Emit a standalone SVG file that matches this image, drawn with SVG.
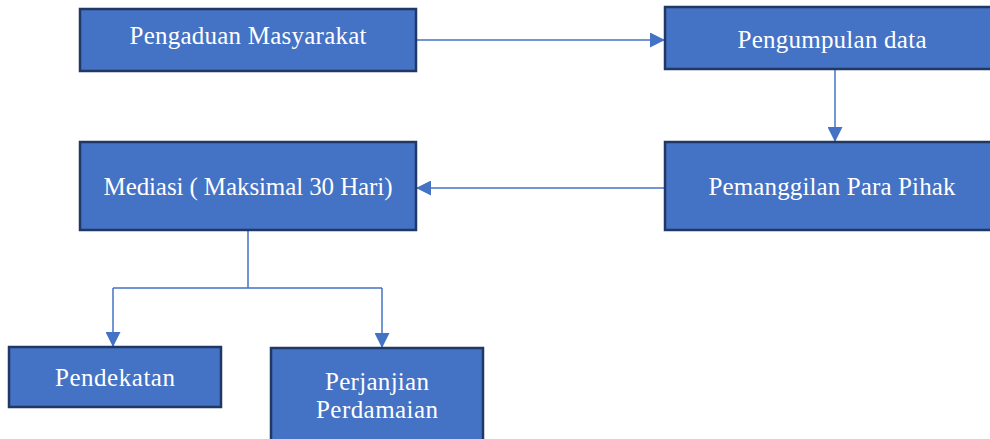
<svg xmlns="http://www.w3.org/2000/svg" width="990" height="439" viewBox="0 0 990 439">
<style>
.box{fill:#4472C4;stroke:#1F3864;stroke-width:2.5}
.lbl{fill:#FFFFFF;font-family:"Liberation Serif","DejaVu Serif",serif;font-size:25px;text-anchor:middle}
.conn{fill:none;stroke:#4472C4;stroke-width:1.5}
</style>
<defs>
<marker id="arr" markerUnits="userSpaceOnUse" markerWidth="15" markerHeight="15" viewBox="0 0 15 15" refX="15" refY="7.5" orient="auto">
<path d="M0,0 L15,7.5 L0,15 Z" fill="#4472C4"/>
</marker>
</defs>
<rect width="990" height="439" fill="#FFFFFF"/>
<g id="connectors">
<path class="conn" d="M416,40 H665" marker-end="url(#arr)"/>
<path class="conn" d="M835,69 V142" marker-end="url(#arr)"/>
<path class="conn" d="M665,188 H416" marker-end="url(#arr)"/>
<path class="conn" d="M248,230 V288 M113,288 H382"/>
<path class="conn" d="M113,288 V347" marker-end="url(#arr)"/>
<path class="conn" d="M382,288 V348" marker-end="url(#arr)"/>
</g>
<g id="pengaduan">
<rect class="box" x="80" y="9" width="336" height="62"/>
<text class="lbl" x="248" y="44" textLength="237">Pengaduan Masyarakat</text>
</g>
<g id="pengumpulan">
<rect class="box" x="665" y="7" width="340" height="62"/>
<text class="lbl" x="832" y="48" textLength="189">Pengumpulan data</text>
</g>
<g id="pemanggilan">
<rect class="box" x="665" y="142" width="340" height="88"/>
<text class="lbl" x="832" y="195" textLength="247">Pemanggilan Para Pihak</text>
</g>
<g id="mediasi">
<rect class="box" x="80" y="142" width="336" height="88"/>
<text class="lbl" x="248" y="195" textLength="289">Mediasi ( Maksimal 30 Hari)</text>
</g>
<g id="pendekatan">
<rect class="box" x="9" y="347" width="212" height="60"/>
<text class="lbl" x="115" y="386" textLength="120">Pendekatan</text>
</g>
<g id="perjanjian">
<rect class="box" x="271" y="348" width="212" height="100"/>
<text class="lbl" x="377" y="390" textLength="104">Perjanjian</text>
<text class="lbl" x="377" y="418" textLength="122">Perdamaian</text>
</g>
</svg>
